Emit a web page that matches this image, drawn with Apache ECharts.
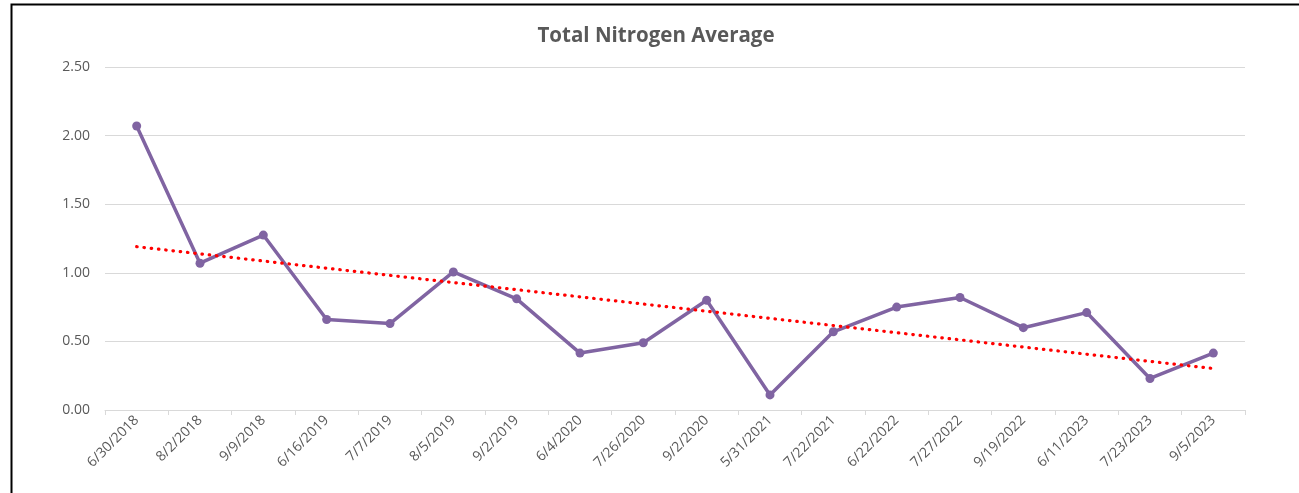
<!DOCTYPE html>
<html>
<head>
<meta charset="utf-8">
<script src="https://cdn.jsdelivr.net/npm/echarts@6/dist/echarts.min.js"></script>
<style>
  html, body { margin: 0; padding: 0; background: #fff; }
  #main { width: 1299px; height: 493px; }
</style>
</head>
<body>
<div id="main"></div>
<script>
var dates = ['6/30/2018', '8/2/2018', '9/9/2018', '6/16/2019', '7/7/2019', '8/5/2019', '9/2/2019',
  '6/4/2020', '7/26/2020', '9/2/2020', '5/31/2021', '7/22/2021', '6/22/2022', '7/27/2022',
  '9/19/2022', '6/11/2023', '7/23/2023', '9/5/2023'];
var nitrogen = [2.07, 1.07, 1.275, 0.66, 0.63, 1.006, 0.81, 0.415, 0.49, 0.80, 0.11, 0.57,
  0.75, 0.82, 0.60, 0.71, 0.23, 0.415];
var yTicks = [0, 0.5, 1, 1.5, 2, 2.5];

// linear trendline (least squares over point index), like the spreadsheet one
function trendOf(vals) {
  var n = vals.length, sx = 0, sy = 0, sxy = 0, sxx = 0;
  for (var i = 0; i < n; i++) {
    sx += i; sy += vals[i]; sxy += i * vals[i]; sxx += i * i;
  }
  var b = (n * sxy - sx * sy) / (n * sxx - sx * sx);
  var a = (sy - b * sx) / n;
  var out = [];
  for (var j = 0; j < n; j++) out.push(+(a + b * j).toFixed(4));
  return out;
}
var trend = trendOf(nitrogen);

var chart = echarts.init(document.getElementById('main'));
chart.setOption({
  animation: false,
  title: {
    text: 'Total Nitrogen Average',
    left: 651,
    textAlign: 'center',
    top: 21,
    textStyle: { fontFamily: 'Open Sans', fontSize: 20.5, fontWeight: 'bold', color: '#595959' }
  },
  graphic: [{
    type: 'rect',
    shape: { x: 11.5, y: 4.5, width: 1300, height: 500 },
    style: { fill: 'none', stroke: '#000', lineWidth: 2 },
    silent: true
  }],
  grid: { left: 105, right: 54, top: 67, bottom: 83 },
  xAxis: {
    type: 'category',
    data: dates,
    boundaryGap: true,
    axisLine: { lineStyle: { color: '#d9d9d9', width: 1 } },
    axisTick: { show: true, length: 5, lineStyle: { color: '#d9d9d9' } },
    axisLabel: {
      rotate: 45, margin: 8, interval: 0,
      fontFamily: 'Open Sans', fontSize: 14, color: '#595959'
    }
  },
  yAxis: {
    type: 'value',
    min: yTicks[0], max: yTicks[yTicks.length - 1], interval: 0.5,
    axisLine: { show: false },
    axisTick: { show: false },
    splitLine: { lineStyle: { color: '#d9d9d9', width: 1 } },
    axisLabel: {
      margin: 15, fontFamily: 'Open Sans', fontSize: 14, color: '#595959',
      formatter: function (v) { return v.toFixed(2); }
    }
  },
  series: [{
    name: 'Total Nitrogen',
    type: 'line',
    data: nitrogen,
    symbol: 'circle',
    symbolSize: 9,
    lineStyle: { color: '#8064a2', width: 3.5 },
    itemStyle: { color: '#8064a2' },
    z: 3
  }, {
    name: 'Trend',
    type: 'line',
    data: trend,
    symbol: 'none',
    lineStyle: { color: '#ff0000', width: 3.2, type: [0.5, 6.8], cap: 'round' },
    z: 4
  }]
});
</script>
</body>
</html>
